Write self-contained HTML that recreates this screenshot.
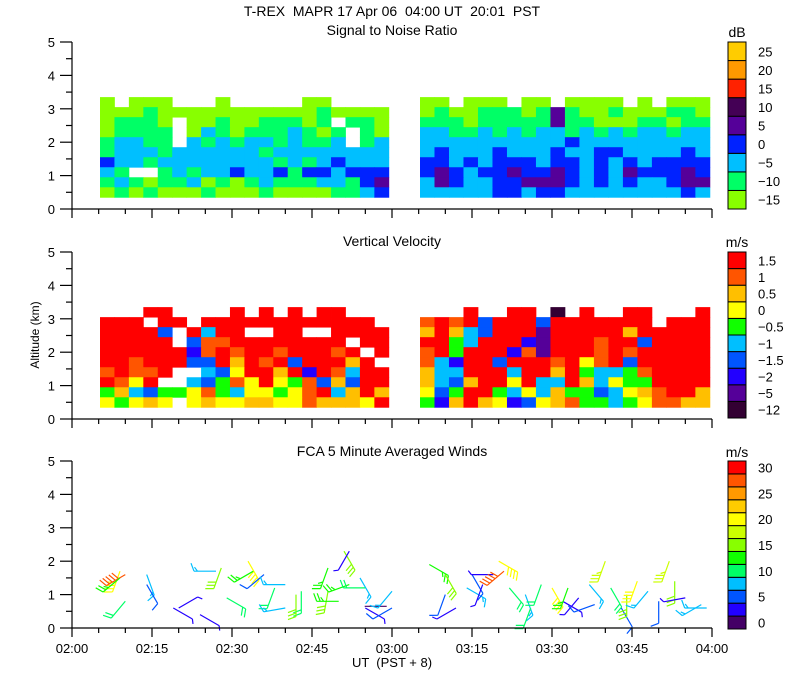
<!DOCTYPE html>
<html><head><meta charset="utf-8"><style>
html,body{margin:0;padding:0;background:#fff;}
svg{display:block;font-family:"Liberation Sans",sans-serif;}
</style></head><body>
<svg id="chart" width="800" height="700" viewBox="0 0 800 700" xmlns="http://www.w3.org/2000/svg">
<rect width="800" height="700" fill="#fff"/>
<text x="392" y="16" font-size="14" text-anchor="middle" xml:space="preserve">T-REX  MAPR 17 Apr 06  04:00 UT  20:01  PST</text>
<text x="392" y="35" font-size="14" text-anchor="middle">Signal to Noise Ratio</text>
<text x="392" y="246" font-size="14" text-anchor="middle">Vertical Velocity</text>
<text x="392" y="456" font-size="14" text-anchor="middle">FCA 5 Minute Averaged Winds</text>
<text x="0" y="0" font-size="12" text-anchor="middle" transform="translate(39,335) rotate(-90)">Altitude (km)</text>
<text x="392" y="667" font-size="13" text-anchor="middle" xml:space="preserve">UT  (PST + 8)</text>
<g id="layer"></g>
</svg>
<script>
// ---- data ----
const segStarts = [5.25, 65.25];      // minutes after 02:00
const segEnds = [59.4, 119.6];
const rowBase = 0.35;                  // km
const rowStep = 0.3;                   // km per row
const snrBins = ['-15','-10','-5','0','5','10','15','20','25'];
const velBins = ['-12','-5','-2','-1.5','-1','-0.5','0','0.5','1','1.5'];
const windTickLabels = ['0','5','10','15','20','25','30'];
const snrSeg1 = [
"0.000...0.....00....",
"00010000000000010000",
"01110.0010011101.110",
"01111.02101112101.10",
"12211.21212212112.12",
"12221222222122222222",
"32212222222212123222",
"21..12122322313323334",
"12101120101211122134",
"01010001000100001123"];
const snrSeg2 = [
"00.000.00.0000.0.000",
"01001110141001000110",
"11101111141100011011",
"22112121221212122122",
"22222222223222222222",
"23222322232233222232",
"33232333233232323333",
"34323343343232433343",
"24322334443232322344",
"22222332332222222232"];
const velSeg1 = [
"...99....9.9.9.99...",
"999.99.999999999999.",
"99993.9499..99..9999",
"99999.38899999999.99",
"999999289899899989.9",
"9989993397989399979.",
"89889..4369979298499",
"9869..43586965837399",
"57435568546656894797",
"65676.67667766877769"];
const velSeg2 = [
"...9..99.0.9..99...9",
"8989399939999999.999",
"79743999199999799999",
"99549992199989939999",
"89599928199989899999",
"84299399989689399999",
"74499949979544589999",
"74379969449746559999",
"63599546475534678997",
"52797623678554568877"];
const barbMin = [9,10,9,10,14,14,19,20,24,27,28,29,33,34,36,38,40,40,43,42,48,48,50,51,52,52,54,55,55,59,60,60,
 67,70,70,72,74,75,77,79,80,81,82,85,86,88,90,92,93,95,97,98,100,101,103,104,106,108,110,112,113,115,118,119];
const barbAlt = [1.7,1.6,1.5,0.8,1.6,1.3,0.6,0.6,0.4,1.7,1.8,0.9,2.0,1.7,1.6,1.2,1.3,0.6,1.1,1.0,1.8,1.1,0.8,2.3,2.3,1.3,1.5,1.2,0.6,0.65,0.6,1.1,
 1.9,1.6,1.0,0.6,1.2,1.6,1.3,1.6,2.0,1.7,1.2,1.0,0.6,1.3,1.2,0.8,1.2,0.9,1.3,0.7,2.0,1.2,0.6,1.0,1.4,1.1,0.8,2.0,1.4,0.9,0.7,0.6];
const barbSpd = [20,28,14,12,8,5,4,3,3,8,16,12,20,14,6,12,9,8,10,17,14,17,13,17,4,14,9,11,3,2,5,9,
 13,17,5,4,8,6,3,3,20,28,12,9,10,12,21,4,14,3,8,5,19,12,6,15,20,8,6,19,16,3,8,8];
const barbDir = [200,240,230,220,160,150,120,60,120,270,200,120,150,240,230,200,270,260,180,180,200,190,270,150,210,250,150,270,120,270,240,220,
 120,150,200,240,120,150,200,270,120,230,140,160,200,200,150,120,200,220,140,250,200,150,150,180,200,220,180,200,180,260,240,270];

// ---- styling ----
const snrColors = ['#88ff00','#00ff66','#00bfff','#0022ff','#550099','#440055','#ff2200','#ff9900','#ffcc00'];
const velColors = ['#330033','#550099','#2200ff','#0055ff','#00bfff','#11ff00','#ffff00','#ffbf00','#ff5500','#ff0000'];
const windColors = ['#440066','#2200ff','#0055ff','#00bfff','#00ff66','#11ff00','#88ff00','#ccff00','#ffff00','#ffcc00','#ff9900','#ff5500','#ff0000'];
const NS='http://www.w3.org/2000/svg';
const layer=document.getElementById('layer');
const X0=72, X1=712, KM=33.4;
const panels=[{y0:209},{y0:419},{y0:628}];
function xs(m){return X0+m*(X1-X0)/120;}
function ys(p,km){return panels[p].y0-km*KM;}
function el(t,a,parent){const e=document.createElementNS(NS,t);for(const k in a)e.setAttribute(k,a[k]);(parent||layer).appendChild(e);return e;}

function drawField(p,segs,colors,name){
  const g=el('g',{});
  
  
  segs.forEach((rows,si)=>{
    const n=20;
    const w=(xs(segEnds[si])-xs(segStarts[si]))/n;
    rows.forEach((row,ri)=>{
      const kmTop=rowBase+rowStep*(rows.length-ri);
      for(let c=0;c<n;c++){
        const ch=row[c]; if(ch==='.'||ch===undefined)continue;
        const r=el('rect',{x:(xs(segStarts[si])+c*w).toFixed(2),y:ys(p,kmTop).toFixed(2),width:(w+0.4).toFixed(2),height:(rowStep*KM+0.4).toFixed(2),fill:colors[+ch]},g);
        
        
      }
    });
  });
}
drawField(0,[snrSeg1,snrSeg2],snrColors,'snr-field');
drawField(1,[velSeg1,velSeg2],velColors,'velocity-field');

const bg=el('g',{'stroke-width':1.2,fill:'none'});


for(let i=0;i<barbMin.length;i++){
  const x=xs(barbMin[i]), y=ys(2,barbAlt[i]);
  const col=windColors[Math.min(12,Math.floor(barbSpd[i]/2.5))];
  const a=barbDir[i]*Math.PI/180, L=22;
  const dx=Math.sin(a), dy=-Math.cos(a);
  const ex=x+dx*L, ey=y+dy*L;
  let d=`M${x.toFixed(1)},${y.toFixed(1)}L${ex.toFixed(1)},${ey.toFixed(1)}`;
  let s=barbSpd[i], k=0;
  const px=-dy, py=dx;
  while(s>=2.5 && k<5){
    const len=s>=5?8:4;
    const bx=ex-dx*k*3.5, by=ey-dy*k*3.5;
    d+=`M${bx.toFixed(1)},${by.toFixed(1)}L${(bx+px*len+dx*3).toFixed(1)},${(by+py*len+dy*3).toFixed(1)}`;
    s-=s>=5?5:2.5;k++;
  }
  const b=el('path',{d:d,stroke:col},bg);
  
  
}

const tickLabels=['02:00','02:15','02:30','02:45','03:00','03:15','03:30','03:45','04:00'];
panels.forEach((pn,p)=>{
  const ax=el('g',{stroke:'#000','stroke-width':1.2,fill:'none'});
  
  
  el('path',{d:`M${X0},${ys(p,5)}L${X0},${pn.y0}L${X1},${pn.y0}`},ax);
  for(let h=0;h<=10;h++){
    const y=ys(p,h/2);
    el('line',{x1:h%2?66:60,x2:X0,y1:y,y2:y},ax);
    if(h%2===0){const t=el('text',{x:55,y:y+5,'font-size':13,'text-anchor':'end',fill:'#000',stroke:'none'});t.textContent=h/2;
      
      }
  }
  for(let m=0;m<=120;m+=5){
    const x=xs(m);
    el('line',{x1:x,x2:x,y1:pn.y0,y2:pn.y0+(m%15===0?9:5)},ax);
    if(p===2&&m%15===0){const t=el('text',{x:x,y:653,'font-size':13,'text-anchor':'middle',fill:'#000',stroke:'none'});t.textContent=tickLabels[m/15];
      
      }
  }
});

function colorbar(top,bot,colors,labels,every,offset,unit,uy,name){
  const g=el('g',{});
  
  
  const n=colors.length,h=(bot-top)/n;
  colors.forEach((c,i)=>{
    el('rect',{x:728,y:bot-(i+1)*h,width:18,height:h,fill:c,stroke:'#000','stroke-width':1},g);
  });
  labels.forEach((l,j)=>{
    const i=offset+j*every;
    const t=el('text',{x:758,y:bot-(i+0.5)*h+5,'font-size':13,fill:'#000'},g);t.textContent=l.replace('-','\u2212');
  });
  const u=el('text',{x:737,y:uy,'font-size':14,'text-anchor':'middle',fill:'#000'},g);u.textContent=unit;
}
colorbar(42,209,snrColors,snrBins,1,0,'dB',37,'snr-colorbar');
colorbar(252,418,velColors,velBins,1,0,'m/s',247,'velocity-colorbar');
colorbar(461,629,windColors,windTickLabels,2,0,'m/s',457,'wind-colorbar');
</script>
</body></html>
